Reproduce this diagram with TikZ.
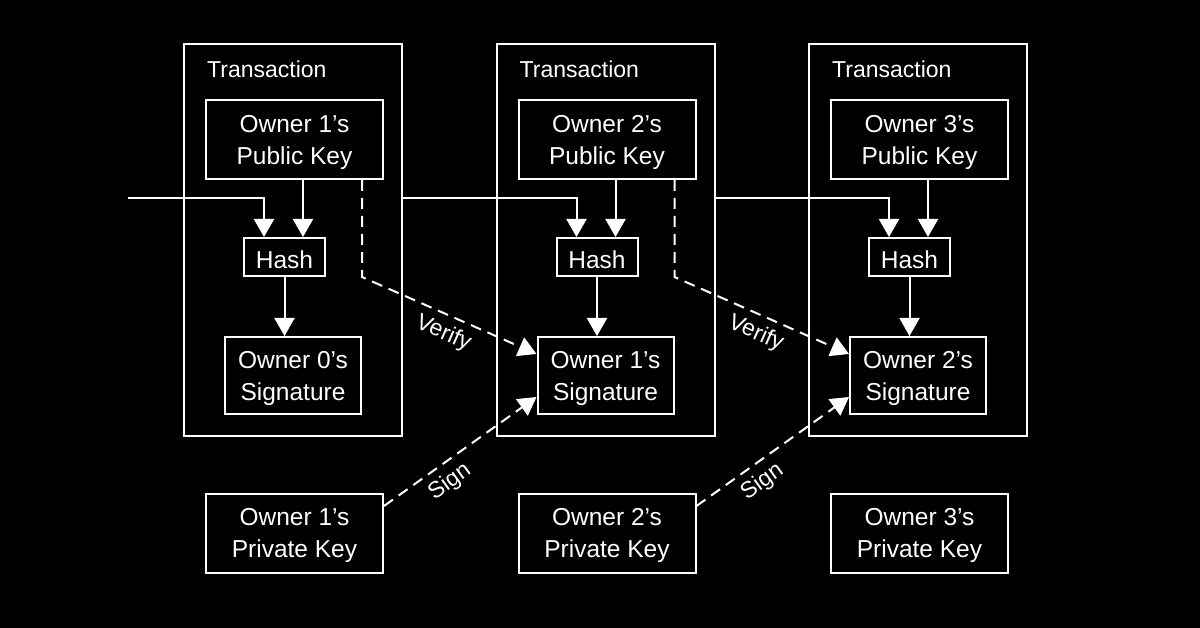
\documentclass[tikz,border=0pt]{standalone}
\usepackage{fontspec}
\setsansfont{Liberation Sans}
\usetikzlibrary{arrows.meta}

\begin{document}
\begin{tikzpicture}[
    x=1pt, y=-1pt,
    font=\sffamily\fontsize{24.5}{32}\selectfont,
    % box styles
    tx box/.style={
        draw=white,
        line width=2pt,
        minimum width=218pt,
        minimum height=392pt,
        inner sep=0pt
    },
    key box/.style={
        draw=white,
        line width=2pt,
        text=white,
        align=center,
        text depth=0pt,
        minimum width=177pt,
        minimum height=79pt,
        inner sep=0pt
    },
    hash box/.style={
        key box,
        text height=23.5pt,
        minimum width=81pt,
        minimum height=38pt
    },
    sig box/.style={
        key box,
        minimum width=136pt,
        minimum height=77pt
    },
    title label/.style={
        text=white,
        font=\sffamily\fontsize{23}{26}\selectfont,
        inner sep=0pt
    },
    step label/.style={
        text=white,
        sloped,
        below=5pt,
        inner sep=2pt,
        font=\sffamily\fontsize{23}{26}\selectfont
    },
    flow arrow/.style={
        draw=white,
        line width=2pt,
        -{Triangle[width=20pt,length=18pt]}
    },
    check arrow/.style={
        flow arrow,
        dash pattern=on 11pt off 7pt
    }
]

    % --- BACKGROUND ---
    \path[use as bounding box, fill=black] (0,0) rectangle (1200,628);

    % --- TRANSACTIONS ---
    \foreach \i/\n/\m in {0/1/0, 1/2/1, 2/3/2} {
        \pgfmathsetmacro{\xT}{183 + 312.5*\i}

        \node[tx box, anchor=north west] (tx\n) at (\xT, 43) {};
        \node[title label, anchor=base west] (title\n) at (\xT+24, 78) {Transaction};
        \node[key box] (pub\n) at (\xT+111.5, 139.5) {Owner \n’s\\Public Key};
        \node[hash box] (hash\n) at (\xT+101.5, 257) {Hash};
        \node[sig box] (sig\n) at (\xT+110, 375.5) {Owner \m’s\\Signature};
        \node[key box] (priv\n) at (\xT+111.5, 533) {Owner \n’s\\Private Key};

        % public key -> hash -> signature
        \draw[flow arrow] ([xshift=18.5pt]hash\n.north |- pub\n.south) -- ([xshift=18.5pt]hash\n.north);
        \draw[flow arrow] (hash\n.south) -- (hash\n.south |- sig\n.north);
    }

    % --- PREVIOUS TRANSACTION INTO HASH ---
    \coordinate (start) at (128, 198);
    \draw[flow arrow] (start) -| ([xshift=-20.5pt]hash1.north);
    \draw[flow arrow] (tx1.east |- start) -| ([xshift=-20.5pt]hash2.north);
    \draw[flow arrow] (tx2.east |- start) -| ([xshift=-20.5pt]hash3.north);

    % --- VERIFY AND SIGN ---
    \foreach \n/\k in {1/2, 2/3} {
        \draw[check arrow] ([xshift=-22pt]pub\n.south east)
            -- ([xshift=-22pt]pub\n.south east |- hash\n.south)
            -- node[step label, pos=0.51] (verify\n) {Verify} ([yshift=21.5pt]sig\k.west);
        \draw[check arrow] ([yshift=27pt]priv\n.east)
            -- node[step label, pos=0.36] (sign\n) {Sign} ([yshift=-21.5pt]sig\k.west);
    }

\end{tikzpicture}
\end{document}
